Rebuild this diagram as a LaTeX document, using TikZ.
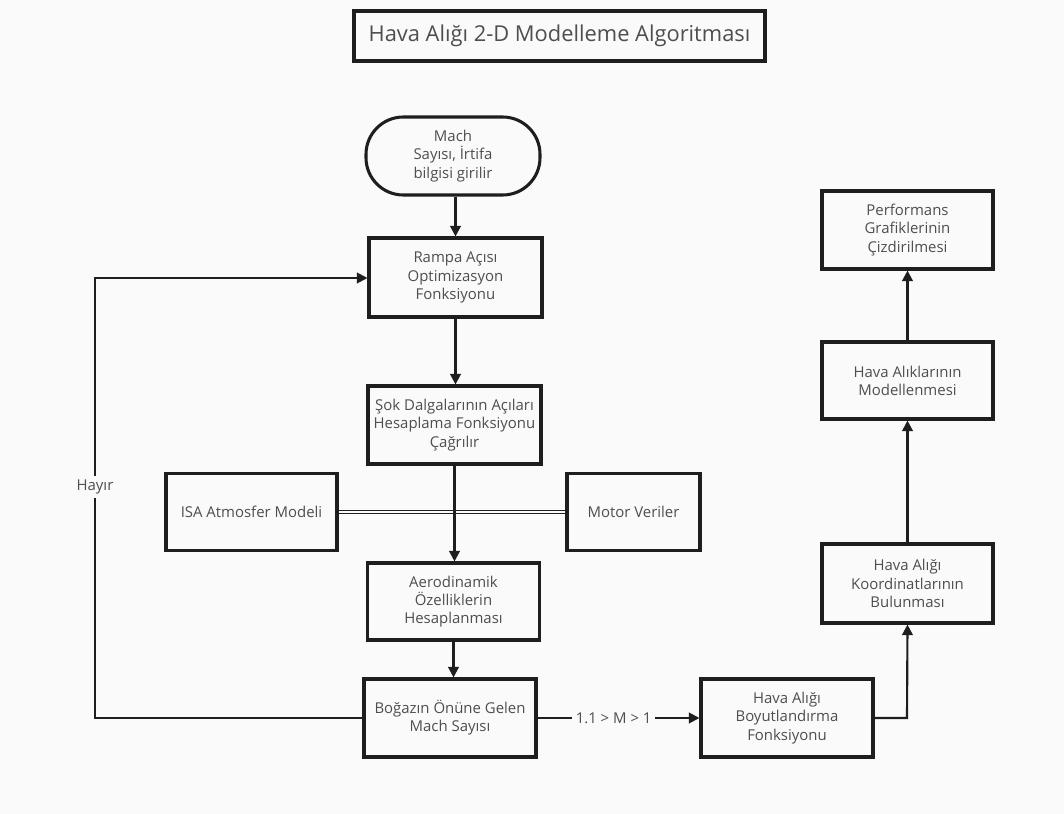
\documentclass[tikz,border=0pt]{standalone}
\usepackage{fontspec}
\setmainfont{Open Sans}
\usetikzlibrary{arrows.meta}
\definecolor{bgc}{HTML}{FAFAFA}
\definecolor{txt}{HTML}{4E4E4E}
\definecolor{ink}{HTML}{1E1E1E}
\begin{document}
\begin{tikzpicture}[x=0.75pt,y=-0.75pt,
  box/.style={draw=ink, line width=2.3pt, inner sep=0pt, align=center, text=txt,
     font=\fontsize{11.2}{13.6}\selectfont},
  conn/.style={draw=ink, line width=1.6pt},
  arr/.style={conn, -{Triangle[length=8pt,width=8pt]}},
  lbl/.style={fill=bgc, text=txt, inner sep=3pt, font=\fontsize{11.2}{13}\selectfont}]
\fill[bgc] (0,0) rectangle (1064,814);
\useasboundingbox (0,0) rectangle (1064,814);

\node[box, minimum width=411*0.75pt, minimum height=50*0.75pt, font=\fontsize{16.4}{19}\selectfont] (title) at (559.5,36) {Hava Alığı 2-D Modelleme Algoritması};

\node[box, rounded corners=28pt, minimum width=174*0.75pt, minimum height=78*0.75pt] (start) at (453,156) {Mach\\Sayısı, İrtifa\\bilgisi girilir};
\node[box, minimum width=173*0.75pt, minimum height=79*0.75pt] (rampa) at (455.5,277.5) {Rampa Açısı\\Optimizasyon\\Fonksiyonu};
\node[box, minimum width=173*0.75pt, minimum height=78*0.75pt] (sok) at (454.5,425) {Şok Dalgalarının Açıları\\Hesaplama Fonksiyonu\\Çağrılır};
\node[box, minimum width=171*0.75pt, minimum height=77*0.75pt] (isa) at (251.5,512) {ISA Atmosfer Modeli};
\node[box, minimum width=133*0.75pt, minimum height=77*0.75pt] (motor) at (633.5,512) {Motor Veriler};
\node[box, minimum width=172*0.75pt, minimum height=77*0.75pt] (aero) at (453.5,601.5) {Aerodinamik\\Özelliklerin\\Hesaplanması};
\node[box, minimum width=172*0.75pt, minimum height=78*0.75pt] (bog) at (450,718) {Boğazın Önüne Gelen\\Mach Sayısı};
\node[box, minimum width=172*0.75pt, minimum height=78*0.75pt] (boy) at (787,718) {Hava Alığı\\Boyutlandırma\\Fonksiyonu};
\node[box, minimum width=171*0.75pt, minimum height=79*0.75pt] (koord) at (907.5,583.5) {Hava Alığı\\Koordinatlarının\\Bulunması};
\node[box, minimum width=171*0.75pt, minimum height=77*0.75pt] (model) at (907.5,380.5) {Hava Alıklarının\\Modellenmesi};
\node[box, minimum width=171*0.75pt, minimum height=78*0.75pt] (perf) at (907.5,230) {Performans\\Grafiklerinin\\Çizdirilmesi};

\coordinate (loopL) at (95,718);
\coordinate (loopT) at (95,278);
\coordinate (koordIn) at (907,718);

% connectors
\draw[conn, line width=1pt] ([yshift=1.2pt]isa.east) -- ([yshift=1.2pt]motor.west);
\draw[conn, line width=1pt] ([yshift=-1.2pt]isa.east) -- ([yshift=-1.2pt]motor.west);
\draw[arr] (start.south -| rampa.north) -- (rampa.north);
\draw[arr] (rampa.south) -- (rampa.south |- sok.north);
\draw[arr] (sok.south) -- (sok.south |- aero.north);
\draw[arr] (aero.south) -- (aero.south |- bog.north);
\draw[arr] (bog.east) -- node[lbl, pos=0.47] {1.1 > M > 1} (boy.west);
\draw[arr] (bog.west) -- (loopL) -- node[lbl, pos=0.525] {Hayır} (loopT) -- (loopT -| rampa.west);
\draw[arr] (boy.east) -- (koordIn) -- (koord.south);
\draw[arr] (koord.north) -- (model.south);
\draw[arr] (model.north) -- (perf.south);
\end{tikzpicture}
\end{document}
